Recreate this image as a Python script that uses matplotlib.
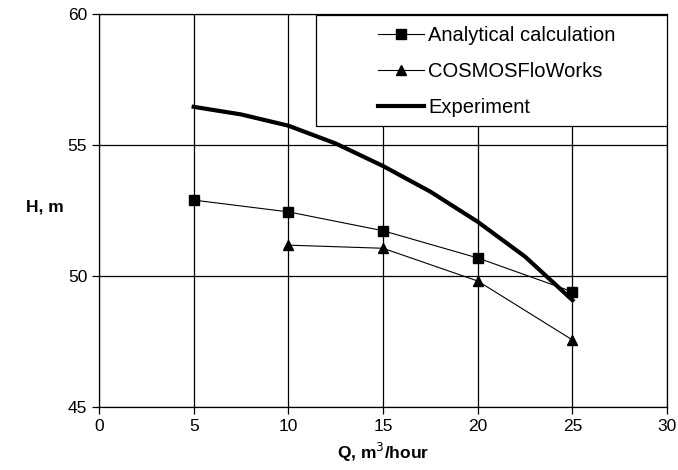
import matplotlib
matplotlib.use('Agg')
import matplotlib.pyplot as plt
from matplotlib.patches import Rectangle

plt.rcParams['font.family'] = ['Liberation Sans', 'DejaVu Sans']

# Data
q_analytical = [5, 10, 15, 20, 25]
h_analytical = [52.9, 52.45, 51.73, 50.69, 49.4]

q_cosmos = [10, 15, 20, 25]
h_cosmos = [51.18, 51.06, 49.81, 47.56]

q_experiment = [5, 7.5, 10, 12.5, 15, 17.5, 20, 22.5, 25]
h_experiment = [56.46, 56.17, 55.74, 55.06, 54.2, 53.22, 52.07, 50.74, 49.08]

x_ticks = [0, 5, 10, 15, 20, 25, 30]
y_ticks = [45, 50, 55, 60]

fig = plt.figure(figsize=(6.78, 4.70), dpi=100)
ax = fig.add_axes([0.146, 0.134, 0.838, 0.836])

ax.plot(q_analytical, h_analytical, color='black', lw=0.8, marker='s',
        markersize=7, label='Analytical calculation', zorder=4)
ax.plot(q_cosmos, h_cosmos, color='black', lw=0.8, marker='^',
        markersize=7, label='COSMOSFloWorks', zorder=4)
ax.plot(q_experiment, h_experiment, color='black', lw=3,
        label='Experiment', zorder=5)

ax.set_xlim(0, 30)
ax.set_ylim(45, 60)
ax.set_xticks(x_ticks)
ax.set_yticks(y_ticks)
ax.grid(True, color='black', lw=0.9)
ax.set_axisbelow(True)
for s in ax.spines.values():
    s.set_linewidth(0.9)
ax.tick_params(direction='out', length=5, width=0.9, labelsize=12.5)

ax.set_xlabel('Q, m$^3$/hour', fontsize=12.5, fontweight='bold', labelpad=5)
ax.set_ylabel('H, m', fontsize=12.5, fontweight='bold', rotation=0)
ax.yaxis.set_label_coords(-0.095, 0.49)

# legend box with white background covering the grid
frame = Rectangle((0.382, 0.715), 0.618, 0.283, transform=ax.transAxes,
                  facecolor='white', edgecolor='black', lw=0.9, zorder=6)
ax.add_patch(frame)
leg = ax.legend(loc='upper left', bbox_to_anchor=(0.47, 1.0), frameon=False,
                fontsize=14.5, handlelength=2.3, handletextpad=0.2,
                labelspacing=0.85, borderaxespad=0.2)
leg.set_zorder(7)

fig.savefig('out.png', dpi=100)
